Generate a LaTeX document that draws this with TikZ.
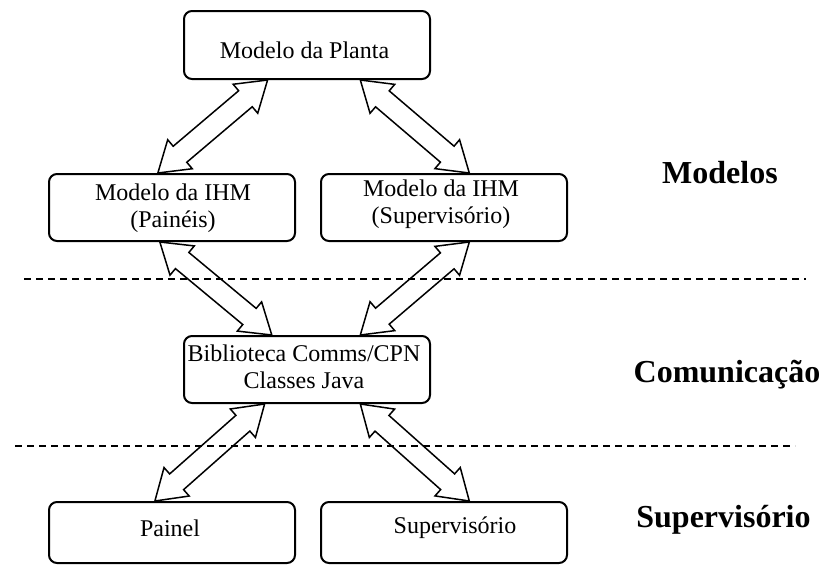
\documentclass[tikz,border=0pt]{standalone}
\usepackage{fontspec}
\setmainfont{Liberation Serif}
\usetikzlibrary{calc}

% block double arrow between two named points
\newcommand\hl{29pt}   % head length
\newcommand\hw{19pt}   % head half width
\newcommand\sw{10.5pt} % shaft half width
\newcommand\dblarrow[2]{%
  \coordinate (p) at ($(#1)!\hl!(#2)$);
  \coordinate (q) at ($(#2)!\hl!(#1)$);
  \draw[arrowline] (#1) -- ($(p)!\hw!-90:(#2)$) -- ($(p)!\sw!-90:(#2)$)
    -- ($(q)!\sw!90:(#1)$) -- ($(q)!\hw!90:(#1)$) -- (#2)
    -- ($(q)!\hw!-90:(#1)$) -- ($(q)!\sw!-90:(#1)$)
    -- ($(p)!\sw!90:(#2)$) -- ($(p)!\hw!90:(#2)$) -- cycle;}

\tikzset{
  box/.style={draw, line width=2pt, rounded corners=8pt, minimum width=246pt, inner sep=0pt},
  boxtext/.style={font=\fontsize{24}{27}\selectfont, align=center, inner sep=0pt},
  layer/.style={font=\fontsize{32}{36}\selectfont\bfseries, inner sep=0pt},
  arrowline/.style={draw, line width=1.5pt, line join=miter},
  sep/.style={line width=2pt, dash pattern=on 7pt off 5pt},
}

\begin{document}
\begin{tikzpicture}[x=1pt, y=-1pt]
\useasboundingbox (0,0) rectangle (819,565);

% boxes
\node[box, minimum height=68pt] (planta) at (307,45) {};
\node[box, minimum height=67pt] (ihmp) at (172,207.5) {};
\node[box, minimum height=67pt] (ihms) at (444,207.5) {};
\node[box, minimum height=67pt] (bib) at (307,369.5) {};
\node[box, minimum height=61pt] (painel) at (172,532.5) {};
\node[box, minimum height=61pt] (sup) at (444,532.5) {};

% box texts
\node[boxtext] (tplanta) at (304.5,50) {Modelo da Planta};
\node[boxtext] (tihmp) at (173,208) {Modelo da IHM\\(Painéis)};
\node[boxtext] (tihms) at (441,204) {Modelo da IHM\\(Supervisório)};
\node[boxtext] (tbib) at (304,367) {Biblioteca Comms/CPN\\Classes Java};
\node[boxtext] (tpainel) at (170,528) {Painel};
\node[boxtext] (tsup) at (455,528) {Supervisório};

% layer labels
\node[layer] (lmod) at (720,173) {Modelos};
\node[layer] (lcom) at (727,375) {Comunicação};
\node[layer] (lsup) at (723.5,520) {Supervisório};

% layer separators
\coordinate (d1l) at (24,279);
\coordinate (d1r) at (806,279);
\coordinate (d2l) at (15,446);
\coordinate (d2r) at (795,446);
\draw[sep] (d1l) -- (d1r);
\draw[sep] (d2l) -- (d2r);

% arrow end points on the box borders
\coordinate (a1s) at ($(planta.south west)!0.341!(planta.south east)$);
\coordinate (a1e) at ($(ihmp.north west)!0.443!(ihmp.north east)$);
\coordinate (a2s) at ($(planta.south west)!0.715!(planta.south east)$);
\coordinate (a2e) at ($(ihms.north west)!0.602!(ihms.north east)$);
\coordinate (a3s) at ($(ihmp.south west)!0.451!(ihmp.south east)$);
\coordinate (a3e) at ($(bib.north west)!0.358!(bib.north east)$);
\coordinate (a4s) at ($(ihms.south west)!0.602!(ihms.south east)$);
\coordinate (a4e) at ($(bib.north west)!0.715!(bib.north east)$);
\coordinate (a5s) at ($(bib.south west)!0.329!(bib.south east)$);
\coordinate (a5e) at ($(painel.north west)!0.431!(painel.north east)$);
\coordinate (a6s) at ($(bib.south west)!0.715!(bib.south east)$);
\coordinate (a6e) at ($(sup.north west)!0.602!(sup.north east)$);

% connectors
\dblarrow{a1s}{a1e}
\dblarrow{a2s}{a2e}
\dblarrow{a3s}{a3e}
\dblarrow{a4s}{a4e}
\dblarrow{a5s}{a5e}
\dblarrow{a6s}{a6e}
\end{tikzpicture}
\end{document}
